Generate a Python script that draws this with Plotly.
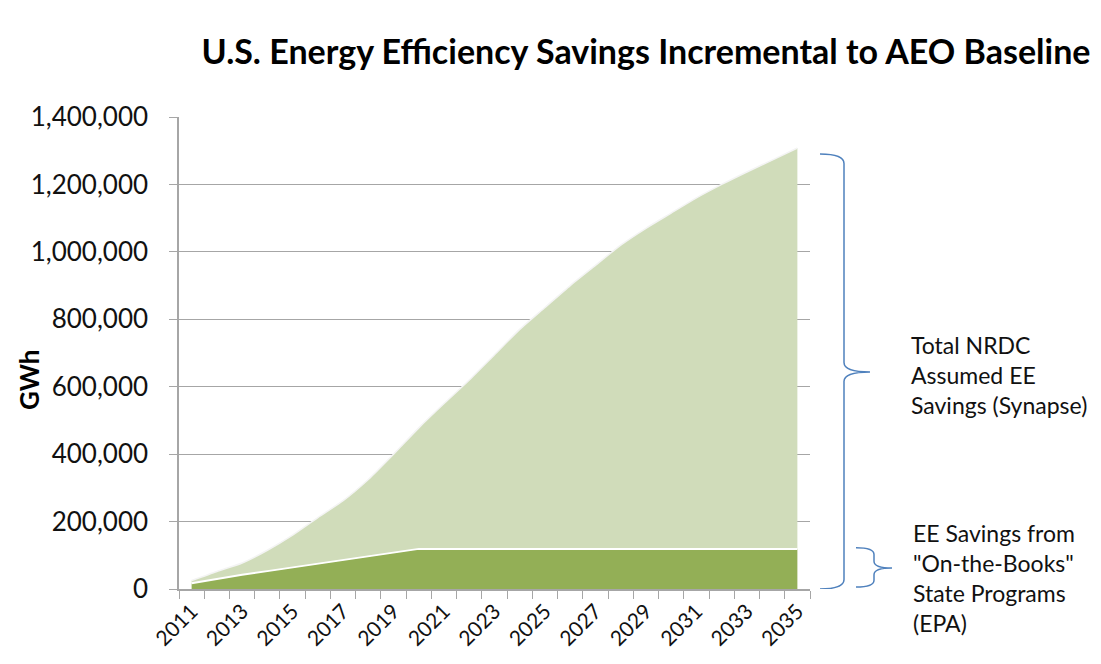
import plotly.graph_objects as go

# 数据（GWh）
years = list(range(2011, 2036))
total_nrdc = [
    25000, 52000, 77000, 115000, 160000, 212000, 262000, 325000, 400000,
    478000, 550000, 620000, 695000, 770000, 835000, 900000, 960000,
    1020000, 1070000, 1115000, 1160000, 1200000, 1237000, 1272000, 1308000,
]
on_the_books = [
    17000, 30000, 42000, 53000, 64000, 75000, 86000, 97000, 108000,
    119000, 119000, 119000, 119000, 119000, 119000, 119000, 119000,
    119000, 119000, 119000, 119000, 119000, 119000, 119000, 119000,
]
label_years = list(range(2011, 2036, 2))
y_ticks = list(range(0, 1400001, 200000))

title_text = "U.S. Energy Efficiency Savings Incremental to AEO Baseline"
label_total = "Total NRDC<br>Assumed EE<br>Savings (Synapse)"
label_epa = "EE Savings from<br>\"On-the-Books\"<br>State Programs<br>(EPA)"

FONT = "Lato"
LIGHT = "#D0DCBA"
DARK = "#93AF56"
BRACE = "#4F81BD"

# 页面 body 有 8px 边距，所有像素位置减 8
OFF = 8
W, H = 1101 - OFF, 664 - OFF
L, R, T, B = 179 - OFF, 810 - OFF, 117 - OFF, 589 - OFF


def px(x):
    """参考图像素 x -> paper 坐标"""
    return (x - OFF - L) / (R - L)


def py(y):
    """参考图像素 y -> paper 坐标"""
    return (B - (y - OFF)) / (B - T)


def brace(x_end, x_spine, x_tip, top, tip, bot, d):
    xe, xs, xt = px(x_end), px(x_spine), px(x_tip)
    return (
        f"M {xe},{top} Q {xs},{top} {xs},{top - d} "
        f"L {xs},{tip + d} Q {xs},{tip} {xt},{tip} "
        f"Q {xs},{tip} {xs},{tip - d} "
        f"L {xs},{bot + d} Q {xs},{bot} {xe},{bot}"
    )


fig = go.Figure()

fig.add_trace(
    go.Scatter(
        x=years,
        y=on_the_books,
        mode="lines",
        fill="tozeroy",
        fillcolor=DARK,
        line=dict(color="white", width=2),
        name="On-the-Books",
        showlegend=False,
    )
)
fig.add_trace(
    go.Scatter(
        x=years,
        y=total_nrdc,
        mode="lines",
        fill="tonexty",
        fillcolor=LIGHT,
        line=dict(color="#F4F4F4", width=1.5, shape="spline", smoothing=0.6),
        name="Total NRDC",
        showlegend=False,
    )
)

# 大括号
fig.add_shape(
    type="path",
    xref="paper",
    yref="y",
    path=brace(820, 844, 870, 1290000, 644000, 0, 28000),
    line=dict(color=BRACE, width=1.5),
)
fig.add_shape(
    type="path",
    xref="paper",
    yref="y",
    path=brace(856, 874, 892, 122000, 62000, 6000, 20000),
    line=dict(color=BRACE, width=1.5),
)

fig.add_annotation(
    x=px(909), y=py(375), xref="paper", yref="paper",
    text=label_total, showarrow=False, xanchor="left", yanchor="middle",
    align="left", font=dict(family=FONT, size=23, color="#111111"),
)
fig.add_annotation(
    x=px(911), y=py(578), xref="paper", yref="paper",
    text=label_epa, showarrow=False, xanchor="left", yanchor="middle",
    align="left", font=dict(family=FONT, size=23, color="#111111"),
)
fig.add_annotation(
    x=px(29), y=py(380), xref="paper", yref="paper",
    text="<b>GWh</b>", textangle=-90, showarrow=False,
    xanchor="center", yanchor="middle",
    font=dict(family=FONT, size=26, color="black"),
)

fig.update_layout(
    title=dict(
        text=f"<b>{title_text}</b>",
        font=dict(family=FONT, size=34, color="black"),
        x=(646 - OFF) / W,
        xanchor="center",
        y=1 - (52 - OFF) / H,
        yanchor="middle",
    ),
    width=W,
    height=H,
    margin=dict(l=L, r=W - R, t=T, b=H - B),
    plot_bgcolor="white",
    paper_bgcolor="white",
    font=dict(family=FONT, color="#111111"),
    xaxis=dict(
        range=[2010.5, 2035.5],
        tickmode="array",
        tickvals=label_years,
        ticktext=[str(y) for y in label_years],
        tickangle=-45,
        ticks="",
        showgrid=False,
        zeroline=False,
        showline=True,
        linecolor="#A6A6A6",
        linewidth=1.5,
        tickfont=dict(family=FONT, size=21, color="#111111"),
        minor=dict(
            tickmode="linear",
            tick0=2010.5,
            dtick=1,
            ticks="outside",
            ticklen=8,
            tickcolor="#A6A6A6",
            showgrid=False,
        ),
    ),
    yaxis=dict(
        range=[0, 1400000],
        tickvals=y_ticks,
        tickformat=",d",
        ticks="outside",
        ticklen=8,
        tickcolor="#A6A6A6",
        ticklabelstandoff=16,
        showgrid=True,
        gridcolor="#A6A6A6",
        gridwidth=1.2,
        zeroline=False,
        showline=True,
        linecolor="#A6A6A6",
        linewidth=1.5,
        tickfont=dict(family=FONT, size=26, color="#111111"),
    ),
)

fig.write_html("out.html")
